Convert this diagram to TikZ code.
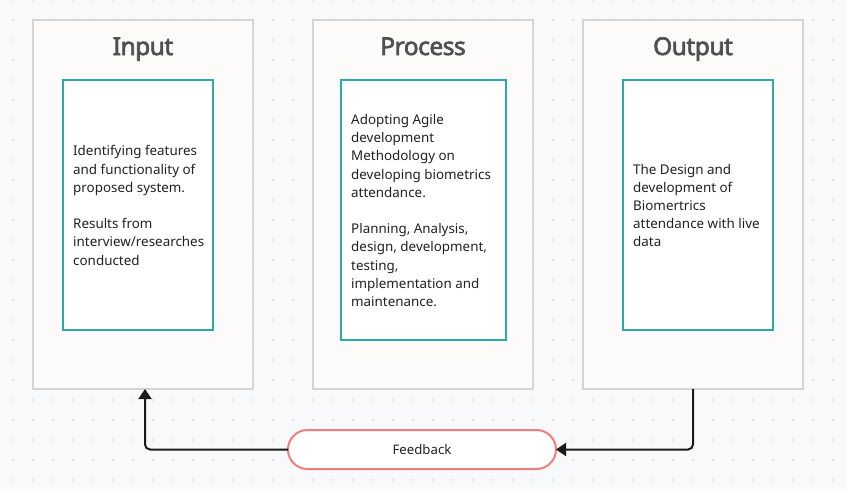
\documentclass[tikz,border=0pt]{standalone}
\usepackage{fontspec}
\setmainfont{Noto Sans}
\newfontfamily\titlefont{Noto Sans}[FakeBold=2.6, LetterSpace=-2]
\usetikzlibrary{arrows.meta,shapes.misc}
\definecolor{bgc}{HTML}{F8F9FB}
\definecolor{dotc}{HTML}{DCDDE2}
\definecolor{panelfill}{HTML}{FCFBFA}
\definecolor{panelline}{HTML}{D5D5D5}
\definecolor{tealc}{HTML}{2BAAAA}
\definecolor{fbred}{HTML}{F47C7C}
\definecolor{titlec}{HTML}{505050}
\definecolor{txtc}{HTML}{222222}
\definecolor{arrowc}{HTML}{1A1A1A}
\begin{document}
\begin{tikzpicture}[x=1pt,y=-1pt,
  panel/.style={draw=panelline, line width=2pt, fill=panelfill, minimum width=220pt, minimum height=369pt, inner sep=0pt, outer sep=0pt},
  innerbox/.style={draw=tealc, line width=2pt, fill=white, inner sep=0pt, outer sep=0pt},
  title/.style={text=titlec, font=\titlefont\fontsize{24.5}{30}\selectfont, inner sep=0pt, anchor=base},
  body/.style={text=txtc, font=\fontsize{13.4}{18.2}\selectfont, align=left, inner sep=0pt, anchor=west},
  fbbox/.style={rounded rectangle, draw=fbred, line width=2pt, fill=white, minimum width=268pt, minimum height=39pt, inner sep=0pt, outer sep=0pt, text=txtc, font=\fontsize{13.2}{16}\selectfont},
  conn/.style={draw=arrowc, line width=2pt, rounded corners=5pt, -{Triangle[length=10pt,width=13pt]}}
]
\useasboundingbox[fill=bgc] (0,0) rectangle (847,491);
\foreach \i in {0,...,41} {
  \foreach \j in {0,...,24} {
    \fill[dotc] (13+20*\i, 20*\j) circle (1.1pt);
  }
}
% panels
\node[panel] (inp) at (143,204.5) {};
\node[panel] (proc) at (423,204.5) {};
\node[panel] (outp) at (693,204.5) {};
% titles
\node[title] (tin) at (143,55) {Input};
\node[title] (tproc) at (423,55) {Process};
\node[title] (tout) at (693,55) {Output};
% inner boxes
\node[innerbox, minimum width=150pt, minimum height=250pt] (iin) at (138,205) {};
\node[innerbox, minimum width=165pt, minimum height=260pt] (iproc) at (423.5,210) {};
\node[innerbox, minimum width=150pt, minimum height=250pt] (iout) at (698,205) {};
% texts
\node[body] (xin) at (73,205.5) {Identifying features\\and functionality of\\proposed system.\\[18.2pt]Results from\\interview/researches\\conducted};
\node[body] (xproc) at (351,210.5) {Adopting Agile\\development\\Methodology on\\developing biometrics\\attendance.\\[18.2pt]Planning, Analysis,\\design, development,\\testing,\\implementation and\\maintenance.};
\node[body] (xout) at (633,205.5) {The Design and\\development of\\Biomertrics\\attendance with live\\data};
% feedback
\node[fbbox] (fb) at (422,449.5) {Feedback};
% connectors
\draw[conn] (outp.south) |- (fb.east);
\draw[conn] (fb.west) -| ([xshift=2pt]inp.south);
\end{tikzpicture}
\end{document}
